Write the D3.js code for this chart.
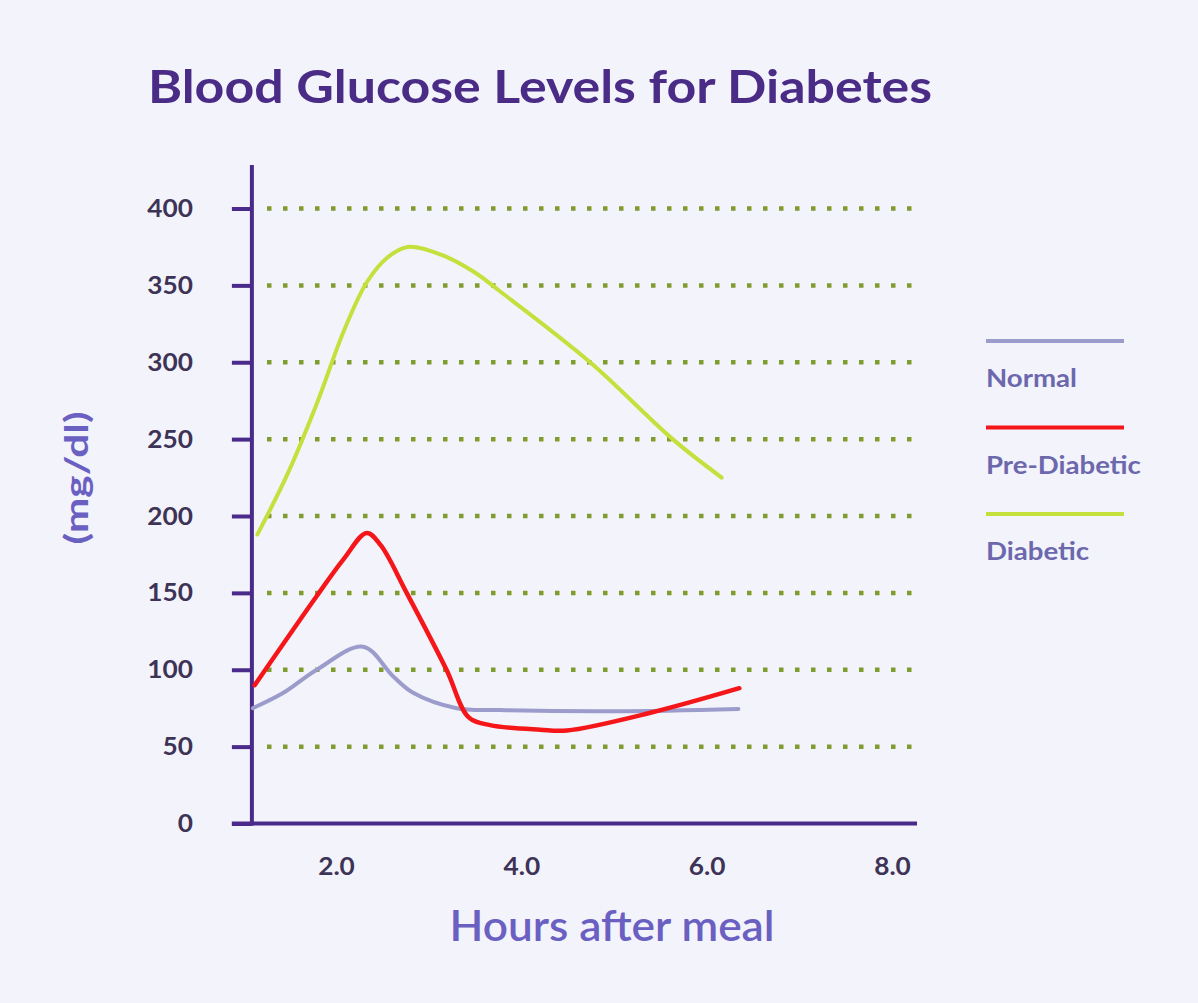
<!DOCTYPE html>
<html>
<head>
<meta charset="utf-8">
<script src="https://cdn.jsdelivr.net/npm/d3@7"></script>
<style>
  body { margin: 0; background: #f3f3fb; }
  text { font-family: Lato, "Open Sans", sans-serif; }
</style>
</head>
<body>
<div id="chart"></div>
<script>
// chart data
const seriesNames = ["Normal", "Pre-Diabetic", "Diabetic"];
const seriesColors = ["#9c9ccc", "#f5161a", "#c5df3c"];

const normalHours = [1.07, 1.40, 1.76, 2.26, 2.58, 2.80, 3.27, 3.74, 5.0, 6.31];
const normalLevels = [75, 85, 100, 115, 96, 85, 75, 73.8, 73, 74.5];

const preHours = [1.09, 1.76, 2.05, 2.30, 2.45, 2.73, 3.16, 3.40, 3.63, 4.17, 4.46, 5.36, 6.32];
const preLevels = [90, 148, 172, 189, 181, 150, 100, 69, 64, 61, 60.5, 72, 88];

const diabHours = [1.12, 1.45, 1.76, 2.05, 2.30, 2.52, 2.74, 3.10, 3.45, 3.74, 4.71, 5.60, 6.13];
const diabLevels = [188, 228, 273, 320, 352, 368, 375, 370, 359, 346, 300, 250, 225];

const yTicks = [0, 50, 100, 150, 200, 250, 300, 350, 400];
const xTicks = [2, 4, 6, 8];

const width = 1198, height = 1003;
const axisColor = "#4a2a8a";

// the picture is a little wider than Lato, so stretch text to match
function stretch(sel, k) {
    sel.each(function () {
        const w = this.getComputedTextLength();
        d3.select(this).attr("textLength", w * k).attr("lengthAdjust", "spacingAndGlyphs");
    });
}

const svg = d3.select("#chart")
    .append("svg")
    .attr("width", width)
    .attr("height", height);

svg.append("rect")
    .attr("width", width)
    .attr("height", height)
    .attr("fill", "#f3f3fb");

// scales
const x = d3.scaleLinear().domain([2, 8]).range([339, 895]);
const y = d3.scaleLinear().domain([0, 400]).range([823.5, 208.5]);
const axisX = x(1.06);

// title
svg.append("text")
    .attr("x", 148)
    .attr("y", 103)
    .attr("fill", "#4a2c87")
    .attr("font-size", 46)
    .attr("font-weight", 700)
    .attr("textLength", 784)
    .attr("lengthAdjust", "spacingAndGlyphs")
    .text("Blood Glucose Levels for Diabetes");

// dotted grid lines
svg.append("g")
    .selectAll("line")
    .data(yTicks.filter(d => d > 0))
    .join("line")
    .attr("x1", 267)
    .attr("x2", 920)
    .attr("y1", d => y(d))
    .attr("y2", d => y(d))
    .attr("stroke", "#7f9c2c")
    .attr("stroke-width", 4.5)
    .attr("stroke-dasharray", "4.5,11.5");

// y axis
const yAxis = svg.append("g")
    .attr("transform", `translate(${axisX}, 0)`)
    .call(d3.axisLeft(y).tickValues(yTicks).tickSize(20).tickPadding(39));
yAxis.select(".domain").remove();
yAxis.selectAll(".tick line").attr("stroke", axisColor).attr("stroke-width", 4);
yAxis.selectAll(".tick text")
    .attr("fill", "#3d3356")
    .attr("font-size", 25)
    .attr("font-weight", 700)
    .attr("font-family", "Lato, sans-serif")
    .call(stretch, 1.05);

svg.append("line")
    .attr("x1", axisX).attr("x2", axisX)
    .attr("y1", 165).attr("y2", y(0) + 2)
    .attr("stroke", axisColor)
    .attr("stroke-width", 4);

// x axis
const xAxis = svg.append("g")
    .attr("transform", `translate(0, ${y(0)})`)
    .call(d3.axisBottom(x).tickValues(xTicks).tickSize(0).tickPadding(34).tickFormat(d3.format(".1f")));
xAxis.select(".domain").remove();
xAxis.selectAll(".tick text")
    .attr("fill", "#3d3356")
    .attr("font-size", 25)
    .attr("font-weight", 700)
    .attr("font-family", "Lato, sans-serif")
    .attr("dx", -3)
    .call(stretch, 1.05);

svg.append("line")
    .attr("x1", axisX - 20).attr("x2", 917)
    .attr("y1", y(0)).attr("y2", y(0))
    .attr("stroke", axisColor)
    .attr("stroke-width", 4);

// axis labels
svg.append("text")
    .attr("x", 612)
    .attr("y", 941)
    .attr("text-anchor", "middle")
    .attr("fill", "#6a60c2")
    .attr("font-size", 42)
    .attr("font-weight", 600)
    .attr("textLength", 325)
    .attr("lengthAdjust", "spacingAndGlyphs")
    .text("Hours after meal");

svg.append("text")
    .attr("transform", "translate(88, 478) rotate(-90)")
    .attr("text-anchor", "middle")
    .attr("fill", "#6a60c2")
    .attr("font-size", 33)
    .attr("font-weight", 700)
    .attr("textLength", 133)
    .attr("lengthAdjust", "spacingAndGlyphs")
    .text("(mg/dl)");

// lines
const series = [
    {name: seriesNames[0], color: seriesColors[0], width: 4, values: normalHours.map((h, i) => [h, normalLevels[i]])},
    {name: seriesNames[1], color: seriesColors[1], width: 4.5, values: preHours.map((h, i) => [h, preLevels[i]])},
    {name: seriesNames[2], color: seriesColors[2], width: 4, values: diabHours.map((h, i) => [h, diabLevels[i]])}
];

const line = d3.line()
    .x(d => x(d[0]))
    .y(d => y(d[1]))
    .curve(d3.curveCatmullRom.alpha(0.5));

svg.append("g")
    .selectAll("path")
    .data(series)
    .join("path")
    .attr("d", d => line(d.values))
    .attr("fill", "none")
    .attr("stroke", d => d.color)
    .attr("stroke-width", d => d.width)
    .attr("stroke-linecap", "round")
    .attr("stroke-linejoin", "round");

// legend
const legend = svg.append("g")
    .selectAll("g")
    .data(series)
    .join("g")
    .attr("transform", (d, i) => `translate(986, ${341 + i * 86.5})`);

legend.append("line")
    .attr("x1", 0).attr("x2", 138)
    .attr("stroke", d => d.color)
    .attr("stroke-width", 4);

legend.append("text")
    .attr("y", 46)
    .attr("fill", "#6c68ad")
    .attr("font-size", 24)
    .attr("font-weight", 700)
    .text(d => d.name)
    .call(stretch, 1.15);
</script>
</body>
</html>
